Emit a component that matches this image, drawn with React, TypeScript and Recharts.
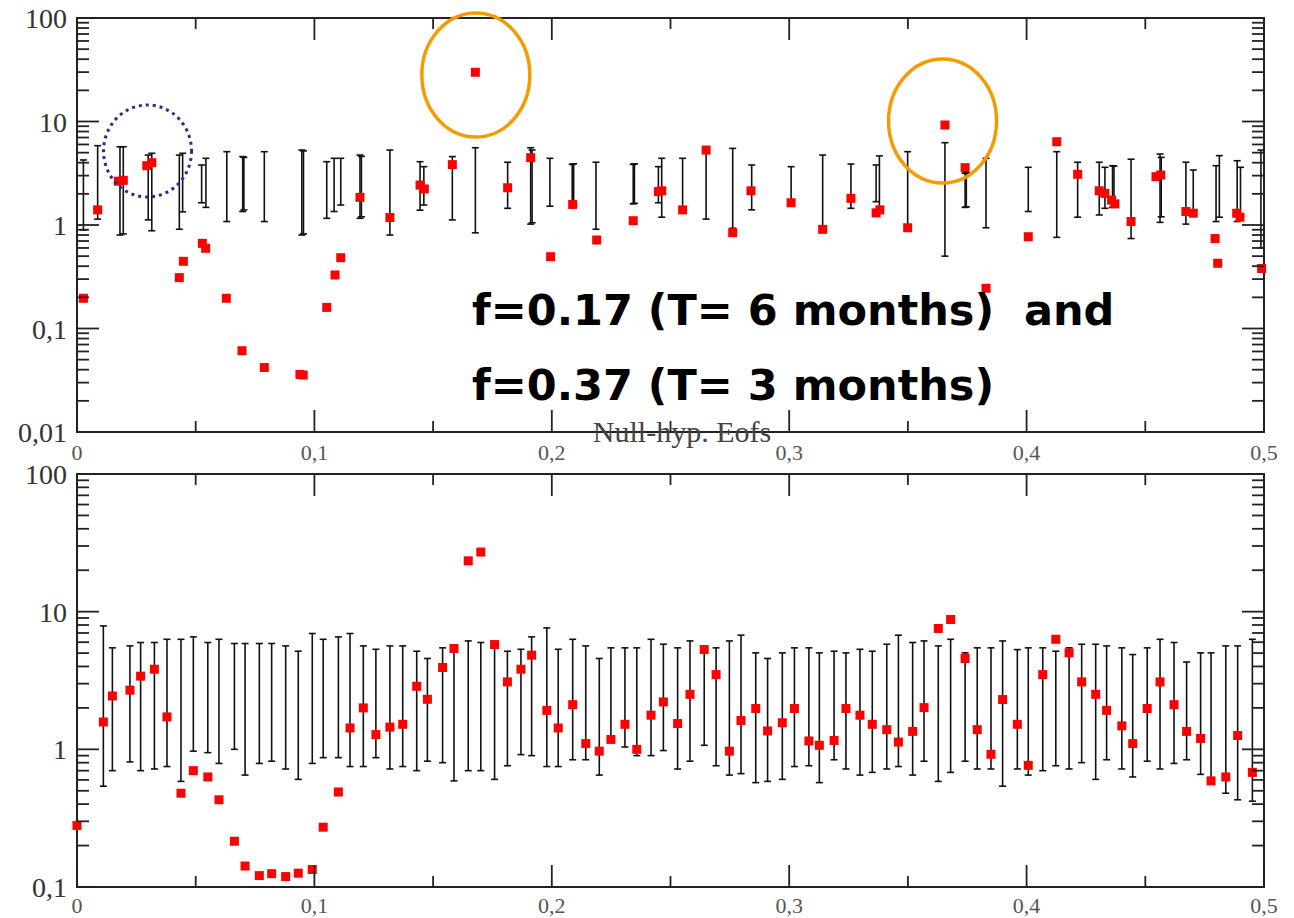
import React from "react";
import {
  ScatterChart,
  Scatter,
  XAxis,
  YAxis,
  ErrorBar,
  ReferenceArea,
  ReferenceDot,
} from "recharts";

// --- top panel: spectrum (red squares) ---
const topX = [
  0.0027, 0.0087, 0.0174, 0.0195, 0.0294, 0.0315, 0.0431, 0.0448, 0.0528, 0.0542,
  0.0629, 0.0695, 0.0789, 0.0939, 0.0953, 0.1052, 0.1087, 0.1111, 0.1192, 0.1318,
  0.1445, 0.1463, 0.1581, 0.1678, 0.1814, 0.1911, 0.1995, 0.2088, 0.2189, 0.2343,
  0.2449, 0.2463, 0.2551, 0.265, 0.2762, 0.2839, 0.3008, 0.3141, 0.326, 0.3366,
  0.3382, 0.3499, 0.3656, 0.3741, 0.3829, 0.4007, 0.4127, 0.4215, 0.4306, 0.433,
  0.4358, 0.4372, 0.444, 0.4545, 0.4565, 0.4671, 0.4702, 0.4794, 0.4805, 0.4885,
  0.4899, 0.499,
];
const topY = [
  0.196, 1.4, 2.65, 2.7, 3.74, 4.0, 0.31, 0.446, 0.665, 0.596,
  0.196, 0.061, 0.042, 0.036, 0.0355, 0.16, 0.329, 0.483, 1.85, 1.18,
  2.43, 2.23, 3.83, 29.9, 2.29, 4.47, 0.494, 1.58, 0.716, 1.1,
  2.1, 2.14, 1.4, 5.3, 0.843, 2.14, 1.64, 0.908, 1.81, 1.31,
  1.4, 0.94, 9.25, 3.58, 0.245, 0.77, 6.38, 3.09, 2.14, 2.02,
  1.74, 1.6, 1.08, 2.93, 3.04, 1.35, 1.3, 0.74, 0.427, 1.3,
  1.19, 0.38,
];

// --- top panel: null-hypothesis ranges (error bars) ---
const topBarX = [
  0.0027, 0.0087, 0.0181, 0.0195, 0.03, 0.0315, 0.0431, 0.0445, 0.0525, 0.0543,
  0.0631, 0.0698, 0.0703, 0.0789, 0.0947, 0.0954, 0.1052, 0.1083, 0.1111, 0.1192,
  0.1198, 0.1318, 0.1445, 0.1461, 0.1581, 0.1678, 0.1814, 0.1911, 0.1917, 0.1992,
  0.2086, 0.2092, 0.2186, 0.2343, 0.2348, 0.2449, 0.2463, 0.2551, 0.265, 0.2762,
  0.2842, 0.3008, 0.3141, 0.326, 0.3366, 0.338, 0.3499, 0.3656, 0.3741, 0.3746,
  0.3829, 0.4007, 0.4127, 0.4215, 0.4306, 0.433, 0.4362, 0.4368, 0.444, 0.4562,
  0.4567, 0.4671, 0.4702, 0.4798, 0.4812, 0.4887, 0.4901, 0.4987,
];
const topBarLo = [
  0.895, 1.14, 0.8, 0.82, 1.12, 0.88, 0.91, 1.34, 1.64, 1.48,
  1.08, 1.35, 1.4, 1.08, 0.8, 0.82, 1.16, 1.35, 1.56, 1.16,
  1.2, 0.8, 1.39, 1.56, 1.12, 0.84, 1.45, 1.02, 1.05, 1.52,
  1.5, 1.55, 0.91, 1.6, 1.62, 1.64, 1.19, 1.42, 1.14, 0.93,
  1.4, 1.64, 0.91, 1.45, 1.68, 1.4, 0.93, 0.5, 1.48, 1.5,
  0.94, 1.35, 0.76, 1.19, 1.25, 1.45, 1.48, 1.5, 0.74, 1.06,
  1.2, 1.02, 1.25, 1.08, 1.19, 1.08, 1.16, 0.6,
];
const topBarHi = [
  4.25, 5.84, 5.7, 5.7, 4.74, 4.93, 4.74, 4.93, 3.8, 4.41,
  5.11, 4.58, 4.5, 5.11, 5.3, 5.2, 4.09, 4.41, 4.41, 4.74,
  4.6, 5.3, 4.09, 3.66, 4.58, 5.58, 4.04, 5.58, 5.3, 4.41,
  3.85, 3.9, 4.04, 3.85, 3.9, 3.66, 4.41, 4.41, 5.3, 5.5,
  3.8, 3.66, 4.74, 3.88, 3.8, 4.65, 5.11, 6.24, 3.16, 3.2,
  4.41, 3.61, 5.11, 4.04, 4.04, 3.61, 3.74, 3.7, 4.32, 4.85,
  4.5, 4.04, 3.4, 3.74, 4.68, 4.18, 3.61, 5.3,
];

// --- bottom panel ---
const botX = [
  0.0, 0.0111, 0.0149, 0.0223, 0.0268, 0.0326, 0.0379, 0.0438, 0.049, 0.0551,
  0.0598, 0.0663, 0.0708, 0.0768, 0.082, 0.0879, 0.0932, 0.0991, 0.1037, 0.1101,
  0.115, 0.1206, 0.1259, 0.1318, 0.1372, 0.1431, 0.1476, 0.154, 0.1588, 0.1648,
  0.1701, 0.1759, 0.1813, 0.187, 0.1915, 0.1979, 0.2027, 0.2088, 0.2143, 0.22,
  0.2249, 0.2308, 0.2358, 0.2418, 0.247, 0.253, 0.2582, 0.2642, 0.2692, 0.2748,
  0.2797, 0.2859, 0.2909, 0.2971, 0.3022, 0.3083, 0.3127, 0.3189, 0.3239, 0.3298,
  0.335, 0.3411, 0.346, 0.352, 0.3568, 0.3628, 0.368, 0.3741, 0.3792, 0.385,
  0.3899, 0.3961, 0.4007, 0.4068, 0.4123, 0.4179, 0.4232, 0.4291, 0.4337, 0.4401,
  0.4447, 0.4508, 0.4562, 0.4621, 0.4674, 0.4733, 0.4777, 0.4839, 0.4889, 0.4951,
];
const botY = [
  0.28, 1.58, 2.44, 2.69, 3.4, 3.82, 1.72, 0.48, 0.7, 0.63,
  0.43, 0.215, 0.142, 0.121, 0.125, 0.119, 0.126, 0.134, 0.272, 0.49,
  1.43, 2.0, 1.28, 1.45, 1.52, 2.87, 2.31, 3.93, 5.4, 23.4,
  27.1, 5.77, 3.09, 3.82, 4.83, 1.92, 1.43, 2.11, 1.1, 0.97,
  1.18, 1.52, 1.0, 1.77, 2.21, 1.54, 2.51, 5.31, 3.49, 0.97,
  1.62, 1.98, 1.36, 1.56, 1.98, 1.15, 1.07, 1.16, 1.98, 1.77,
  1.52, 1.39, 1.13, 1.35, 2.01, 7.55, 8.77, 4.57, 1.39, 0.92,
  2.3, 1.52, 0.765, 3.49, 6.3, 5.02, 3.09, 2.51, 1.92, 1.48,
  1.1, 1.98, 3.09, 2.11, 1.35, 1.2, 0.59, 0.63, 1.26, 0.68,
];
const botLo = [
  null, 0.54, 0.7, 0.81, 0.7, 0.72, 0.75, 0.585, 0.97, 0.946,
  0.79, 1.0, 0.65, 0.79, 0.82, 0.72, 0.605, 0.79, 0.87, 0.87,
  0.75, 0.75, 0.87, 0.72, 0.75, 0.7, 0.82, 0.8, 0.59, 0.7,
  0.7, 0.605, 0.76, 0.915, 0.9, 0.75, 0.75, 0.84, 0.84, 0.65,
  1.18, 1.04, 0.9, 0.9, 0.98, 0.72, 0.82, 1.07, 0.76, 0.65,
  0.666, 0.573, 0.585, 0.605, 0.75, 0.76, 0.573, 0.84, 0.72, 0.65,
  0.68, 0.72, 0.75, 0.65, 0.82, 0.585, 0.68, 0.82, 0.72, 0.72,
  0.54, 0.72, 0.65, 0.7, 0.76, 0.72, 0.8, 0.605, 0.84, 0.72,
  0.63, 0.82, 0.72, 0.79, 0.84, 0.658, 0.6, 0.48, 0.43, 0.42,
];
const botHi = [
  null, 7.88, 5.46, 5.64, 5.97, 5.97, 6.3, 6.3, 6.56, 5.97,
  6.3, 5.87, 5.87, 5.87, 5.87, 5.64, 5.16, 6.94, 6.3, 6.56,
  6.94, 5.64, 5.33, 5.64, 5.64, 5.16, 4.57, 5.46, 5.46, 6.13,
  5.97, 5.77, 5.16, 5.33, 6.56, 7.62, 5.33, 6.3, 5.64, 4.57,
  5.46, 5.46, 5.46, 6.3, 5.8, 5.46, 6.13, 5.31, 5.46, 6.13,
  6.75, 5.02, 4.57, 5.02, 5.46, 5.46, 5.02, 5.16, 5.02, 5.33,
  5.16, 5.8, 6.75, 5.97, 6.13, 5.64, 6.3, 5.02, 5.46, 5.46,
  6.13, 5.3, 5.46, 5.46, 5.16, 5.46, 5.8, 5.8, 5.64, 5.46,
  4.88, 5.46, 6.3, 5.97, 4.31, 5.02, 5.02, 5.64, 5.64, 6.3,
];

// axis ticks
const xMajor = [0, 0.1, 0.2, 0.3, 0.4, 0.5];
const xLabels = ["0", "0,1", "0,2", "0,3", "0,4", "0,5"];
const topYMajor = [0.01, 0.1, 1, 10, 100];
const topYLabels = ["0,01", "0,1", "1", "10", "100"];
const botYMajor = [0.1, 1, 10, 100];
const botYLabels = ["0,1", "1", "10", "100"];

const W = 1294;
const LEFT = 77;
const RIGHT = 1264;
const INK = "#222";
const SERIF = "'Liberation Serif', 'Times New Roman', serif";

const xTicks = xMajor.flatMap((v, i) => (i < xMajor.length - 1 ? [v, v + 0.05] : [v]));
const logTicks = (majors: number[]) =>
  majors.flatMap((v, i) =>
    i < majors.length - 1 ? [v, 2 * v, 3 * v, 4 * v, 5 * v, 6 * v, 7 * v, 8 * v, 9 * v] : [v]
  );

const toPoints = (xs: number[], ys: number[]) => xs.map((x, i) => ({ x, y: ys[i] }));
const toBars = (xs: number[], lo: (number | null)[], hi: (number | null)[]) =>
  xs
    .map((x, i) => ({ x, lo: lo[i], hi: hi[i] }))
    .filter((d) => d.lo != null && d.hi != null)
    .map((d) => ({ x: d.x, y: d.lo as number, err: [0, (d.hi as number) - (d.lo as number)] }));

const Square = (p: any) => (
  <rect x={p.cx - 4.5} y={p.cy - 4.5} width={9} height={9} fill="#ff0000" />
);

function Panel({
  height,
  top,
  bottom,
  labelDy,
  yMajor,
  yLabels,
  points,
  bars,
  children,
}: {
  height: number;
  top: number;
  bottom: number;
  labelDy: number;
  yMajor: number[];
  yLabels: string[];
  points: { x: number; y: number }[];
  bars: { x: number; y: number; err: number[] }[];
  children?: React.ReactNode;
}) {
  const axisH = height - bottom;
  const renderXTick = (p: any) => {
    const v = p.payload.value;
    const x = p.payload.coordinate ?? p.x;
    const i = xMajor.indexOf(v);
    const len = i >= 0 ? 22 : 11;
    return (
      <g>
        <line x1={x} x2={x} y1={bottom} y2={bottom - len} stroke={INK} strokeWidth={1.8} />
        <line x1={x} x2={x} y1={top} y2={top + len} stroke={INK} strokeWidth={1.8} />
        {i >= 0 && (
          <text x={x} y={bottom + labelDy} textAnchor="middle" fontFamily={SERIF} fontSize={22} fill="#555">
            {xLabels[i]}
          </text>
        )}
      </g>
    );
  };
  const renderYTick = (p: any) => {
    const v = p.payload.value;
    const y = p.payload.coordinate ?? p.y;
    const i = yMajor.indexOf(v);
    const len = i >= 0 ? 22 : 12;
    return (
      <g>
        <line x1={LEFT} x2={LEFT + len} y1={y} y2={y} stroke={INK} strokeWidth={1.8} />
        <line x1={RIGHT} x2={RIGHT - len} y1={y} y2={y} stroke={INK} strokeWidth={1.8} />
        {i >= 0 && (
          <text x={LEFT - 10} y={y + 10} textAnchor="end" fontFamily={SERIF} fontSize={28} fill="#333">
            {yLabels[i]}
          </text>
        )}
      </g>
    );
  };
  const y0 = yMajor[0];
  const y1 = yMajor[yMajor.length - 1];
  return (
    <ScatterChart
      width={W}
      height={height}
      margin={{ top, right: W - RIGHT, bottom: 0, left: 0 }}
    >
      <XAxis
        type="number"
        dataKey="x"
        domain={[0, 0.5]}
        ticks={xTicks}
        interval={0}
        height={axisH}
        axisLine={false}
        tickLine={false}
        tickSize={0}
        tickMargin={0}
        tick={renderXTick}
      />
      <YAxis
        type="number"
        dataKey="y"
        scale="log"
        domain={[y0, y1]}
        ticks={logTicks(yMajor)}
        interval={0}
        width={LEFT}
        axisLine={false}
        tickLine={false}
        tickSize={0}
        tickMargin={0}
        tick={renderYTick}
      />
      <ReferenceArea
        x1={0}
        x2={0.5}
        y1={y0}
        y2={y1}
        fill="none"
        fillOpacity={0}
        stroke={INK}
        strokeWidth={2}
        ifOverflow="visible"
      />
      <Scatter data={bars} shape={() => <g />} isAnimationActive={false}>
        <ErrorBar dataKey="err" direction="y" width={3.5} stroke="#111" strokeWidth={1.6} />
      </Scatter>
      <Scatter data={points} shape={Square} isAnimationActive={false} />
      {children}
    </ScatterChart>
  );
}

const Ring = (color: string, rx: number, ry: number, dash?: string) => (p: any) => (
  <ellipse
    cx={p.cx}
    cy={p.cy}
    rx={rx}
    ry={ry}
    fill="none"
    stroke={color}
    strokeWidth={dash ? 3 : 3.5}
    strokeDasharray={dash}
  />
);

export default function App() {
  const topPoints = toPoints(topX, topY);
  const topBars = toBars(topBarX, topBarLo, topBarHi);
  const botPoints = toPoints(botX, botY);
  const botBars = toBars(botX, botLo, botHi);

  return (
    <div
      style={{
        position: "absolute",
        left: 0,
        top: 0,
        width: W,
        height: 918,
        overflow: "hidden",
        background: "#fff",
      }}
    >
      <div style={{ position: "absolute", left: 0, top: 0 }}>
        <Panel
          height={470}
          top={18}
          bottom={432}
          labelDy={28}
          yMajor={topYMajor}
          yLabels={topYLabels}
          points={topPoints}
          bars={topBars}
        >
          <ReferenceDot x={0.168} y={28.1} r={1} ifOverflow="visible" shape={Ring("#f59a00", 54, 62)} />
          <ReferenceDot x={0.3646} y={10.1} r={1} ifOverflow="visible" shape={Ring("#f59a00", 54, 62)} />
          <ReferenceDot x={0.0297} y={5.19} r={1} ifOverflow="visible" shape={Ring("#2b2b8c", 44, 46, "3 4")} />
        </Panel>
      </div>
      <div style={{ position: "absolute", left: 0, top: 460 }}>
        <Panel
          height={458}
          top={14}
          bottom={427}
          labelDy={26}
          yMajor={botYMajor}
          yLabels={botYLabels}
          points={botPoints}
          bars={botBars}
        />
      </div>
      <svg
        width={W}
        height={918}
        style={{ position: "absolute", left: 0, top: 0, pointerEvents: "none" }}
      >
        <text x={682} y={442} textAnchor="middle" fontFamily={SERIF} fontSize={30} fill="#444">
          Null-hyp. Eofs
        </text>
        <g fontFamily="'DejaVu Sans', Verdana, sans-serif" fontWeight="bold" fontSize={43} fill="#000">
          <text x={472} y={325} style={{ whiteSpace: "pre" }}>
            {"f=0.17 (T= 6 months)  and"}
          </text>
          <text x={472} y={400} style={{ whiteSpace: "pre" }}>
            {"f=0.37 (T= 3 months)"}
          </text>
        </g>
      </svg>
    </div>
  );
}
